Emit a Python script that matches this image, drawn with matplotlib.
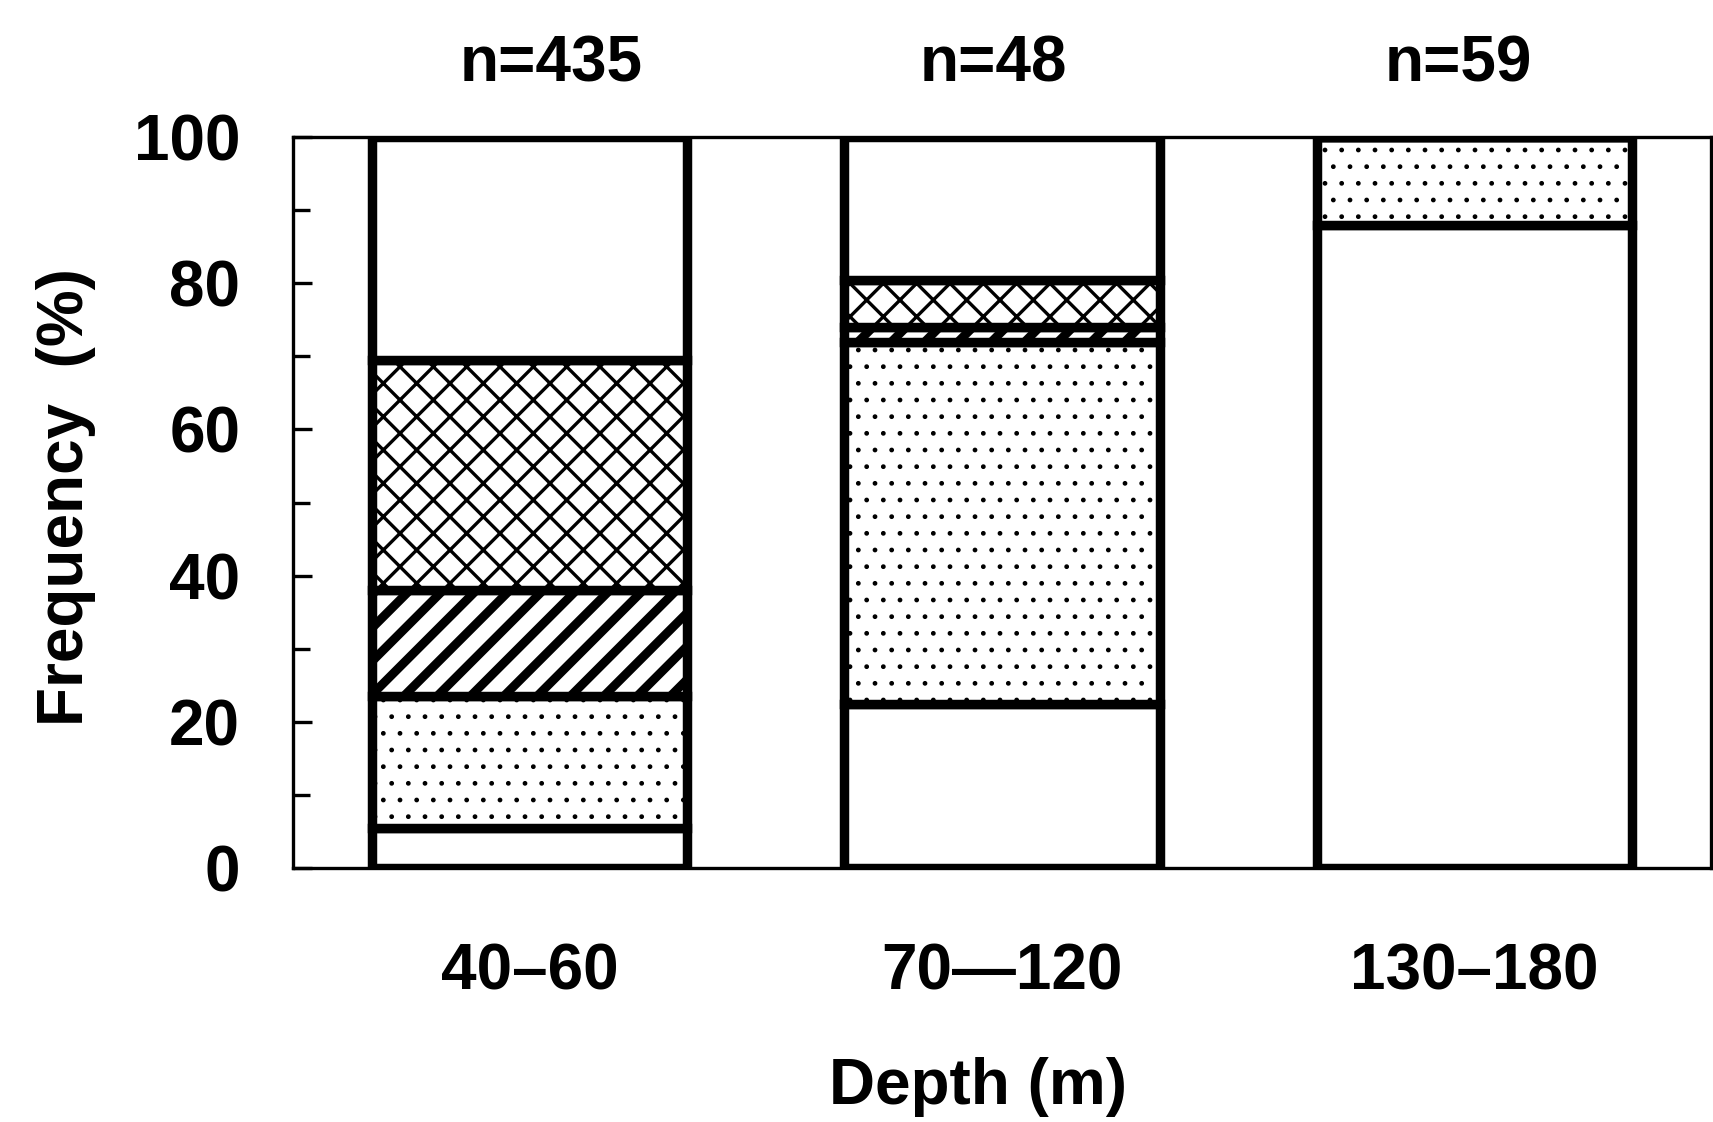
import matplotlib
matplotlib.use("Agg")
import matplotlib.pyplot as plt
import numpy as np

# ---- data (percent, stacked from bottom to top) ----
depths = ["40–60", "70—120", "130–180"]
n_labels = ["n=435", "n=48", "n=59"]
white_low = [5.5, 22.5, 88.0]
dotted = [18.0, 49.5, 12.0]
diagonal = [14.5, 2.0, 0.0]
crossed = [31.5, 6.5, 0.0]
white_top = [30.5, 19.5, 0.0]
y_ticks = [0, 20, 40, 60, 80, 100]

plt.rcParams['font.family'] = ['Liberation Sans', 'DejaVu Sans']
plt.rcParams['font.weight'] = 'bold'

DPI = 200
fig = plt.figure(figsize=(1713 / DPI, 1122 / DPI), dpi=DPI)
ax = fig.add_axes([293 / 1713, 1 - 868 / 1122, (1711 - 293) / 1713, (868 - 137) / 1122])

x = np.arange(len(depths))
width = 0.667
series = [
    (white_low, '', 1.0),
    (dotted, '..', 0.5),
    (diagonal, '//', 3.2),
    (crossed, 'xx', 1.2),
    (white_top, '', 1.0),
]
bottom = np.zeros(len(depths))
for vals, hatch, hlw in series:
    with plt.rc_context({'hatch.linewidth': hlw}):
        bars = ax.bar(x, vals, width, bottom=bottom, color='white',
                      edgecolor='black', linewidth=3.4, hatch=hatch, zorder=2)
        for p in bars:
            if hasattr(p, 'set_hatch_linewidth'):
                p.set_hatch_linewidth(hlw)
    bottom = bottom + np.array(vals)

ax.set_xlim(-0.5, 2.5)
ax.set_ylim(0, 100)
ax.set_yticks(y_ticks)
ax.set_yticks(np.arange(10, 100, 20), minor=True)
ax.set_xticks(x)
ax.set_xticklabels(depths)
ax.tick_params(axis='y', which='major', direction='in', length=7, width=1.2,
               labelsize=23, pad=19)
ax.tick_params(axis='y', which='minor', direction='in', length=6, width=1.2)
ax.tick_params(axis='x', length=0, labelsize=23, pad=27)
for s in ax.spines.values():
    s.set_linewidth(1.2)

label_dx = [8, -3, -6]  # small horizontal nudges in points
for xi, lab, dx in zip(x, n_labels, label_dx):
    ax.annotate(lab, xy=(xi, 100), xytext=(dx, 26), textcoords='offset points',
                ha='center', va='center', fontsize=23, fontweight='bold')

fig.text(66 / 1713, 1 - 497 / 1122, "Frequency  (%)", rotation=90,
         ha='center', va='center', fontsize=23, fontweight='bold')
fig.text(978 / 1713, 1 - 1087 / 1122, "Depth (m)",
         ha='center', va='center', fontsize=23, fontweight='bold')

fig.savefig("out.png", dpi=DPI, facecolor='white')
